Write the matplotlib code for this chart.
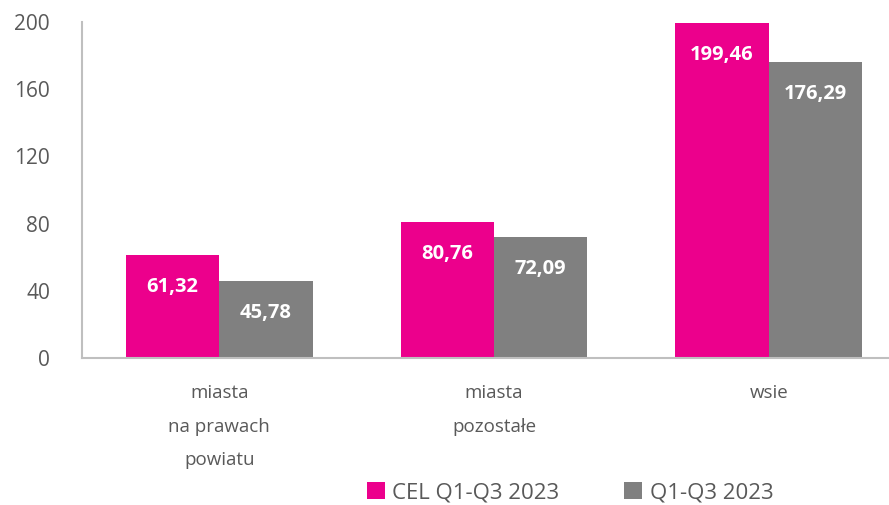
import numpy as np
import matplotlib.pyplot as plt

plt.rcParams['font.family'] = ['Open Sans', 'DejaVu Sans']

categories = ['miasta\nna prawach\npowiatu', 'miasta\npozostałe', 'wsie']
cel_values = [61.32, 80.76, 199.46]
base_values = [45.78, 72.09, 176.29]
series_names = ['CEL Q1-Q3 2023', 'Q1-Q3 2023']
yticks = [0, 40, 80, 120, 160, 200]

pink = '#EC008C'
grey = '#808080'
text_grey = '#595959'

fig = plt.figure(figsize=(8.89, 5.05), dpi=100)
# axes spans 82..906 px horizontally, y 0 at 358 px, 200 at 22 px
ax = fig.add_axes([82 / 889, (505 - 358) / 505, (906 - 82) / 889, (358 - 22) / 505])

x = np.arange(len(categories))
w = 0.34
b1 = ax.bar(x - w / 2, cel_values, w, color=pink, label=series_names[0])
b2 = ax.bar(x + w / 2, base_values, w, color=grey, label=series_names[1])

for bars, vals in ((b1, cel_values), (b2, base_values)):
    for rect, v in zip(bars, vals):
        ax.annotate(f'{v:.2f}'.replace('.', ','),
                    (rect.get_x() + rect.get_width() / 2, v),
                    xytext=(0, -32), textcoords='offset pixels',
                    ha='center', va='center', color='white',
                    fontsize=14.5, fontweight='bold')

ax.set_xlim(-0.5, 2.5)
ax.set_ylim(0, 200)
ax.set_yticks(yticks)
ax.set_xticks(x)
ax.set_xticklabels(categories, fontsize=13.5, color=text_grey, linespacing=2.1)
ax.tick_params(axis='y', labelsize=15, labelcolor=text_grey, length=0, pad=23)
ax.tick_params(axis='x', length=0, pad=19)

for s in ('top', 'right'):
    ax.spines[s].set_visible(False)
for s in ('left', 'bottom'):
    ax.spines[s].set_color('#BFBFBF')
    ax.spines[s].set_linewidth(1.5)

fig.legend(handles=[b1, b2], labels=series_names, loc='center',
           bbox_to_anchor=(570 / 889, 1 - 493 / 505), ncol=2, frameon=False,
           fontsize=16, labelcolor=text_grey, handlelength=0.8, handleheight=0.8,
           handletextpad=0.35, columnspacing=2.9)

fig.savefig('out.png', dpi=100)
